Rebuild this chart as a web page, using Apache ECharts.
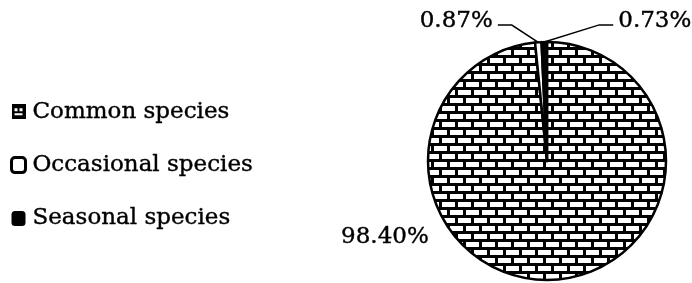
<!DOCTYPE html>
<html>
<head>
<meta charset="utf-8">
<script src="https://cdn.jsdelivr.net/npm/echarts@6/dist/echarts.min.js"></script>
<style>
  html, body { margin: 0; padding: 0; background: #fff; }
  #chart { width: 692px; height: 283px; }
</style>
</head>
<body>
<div id="chart"></div>
<script>
  // 数据
  var categories = ['Common species', 'Occasional species', 'Seasonal species']
  var shares = [98.40, 0.87, 0.73]

  // 砖块填充
  function brickPattern () {
    var c = document.createElement('canvas')
    c.width = 16
    c.height = 16
    var g = c.getContext('2d')
    g.fillStyle = '#000'
    g.fillRect(0, 0, 16, 16)
    g.fillStyle = '#fff'
    g.fillRect(2, 2, 13, 5)
    g.fillRect(0, 10, 7, 5)
    g.fillRect(10, 10, 6, 5)
    return c
  }

  // 图例里的小砖块图标
  function brickIcon () {
    var c = document.createElement('canvas')
    c.width = 14
    c.height = 15
    var g = c.getContext('2d')
    g.fillStyle = '#000'
    g.fillRect(0, 0, 14, 15)
    g.fillStyle = '#fff'
    g.fillRect(3, 4, 3, 3)
    g.fillRect(8, 4, 3, 3)
    g.fillRect(3, 9, 8, 2)
    return c.toDataURL()
  }

  var fills = [{ image: brickPattern(), repeat: 'repeat' }, '#fff', '#000']
  var font = 'DejaVu Serif'

  var pieData = categories.map(function (name, i) {
    var item = { name: name, value: shares[i], itemStyle: { color: fills[i] } }
    if (i === 0) item.labelLine = { show: false }
    return item
  })

  var chart = echarts.init(document.getElementById('chart'))
  chart.setOption({
    animation: false,
    legend: {
      orient: 'vertical',
      left: 10,
      top: 100,
      padding: 0,
      itemWidth: 14,
      itemHeight: 15,
      itemGap: 30,
      selectedMode: false,
      textStyle: {
        fontFamily: font, fontSize: 23, lineHeight: 23, color: '#000',
        textBorderColor: '#000', textBorderWidth: 0.4, padding: [0, 0, 0, 2]
      },
      data: [
        { name: categories[0], icon: 'image://' + brickIcon() },
        { name: categories[1], icon: 'roundRect', itemStyle: { color: '#fff', borderColor: '#000', borderWidth: 3 } },
        { name: categories[2], icon: 'roundRect', itemStyle: { color: '#000', borderWidth: 0 } }
      ]
    },
    series: [{
      type: 'pie',
      center: [547, 161],
      radius: 119,
      startAngle: 90,
      clockwise: true,
      avoidLabelOverlap: false,
      emphasis: { disabled: true },
      itemStyle: { borderColor: '#000', borderWidth: 2.5 },
      label: {
        show: true,
        position: 'outside',
        formatter: function (p) { return '{v|' + p.value.toFixed(2) + '%}\n{s| }' },
        rich: {
          v: {
            color: '#000', fontFamily: font, fontSize: 23, lineHeight: 23,
            textBorderColor: '#000', textBorderWidth: 0.4, padding: [0, 5, 0, 5]
          },
          s: { fontSize: 1, lineHeight: 16 }
        }
      },
      labelLine: {
        show: true,
        length: 14,
        length2: 14,
        lineStyle: { color: '#000', width: 1.5 }
      },
      labelLayout: function (p) {
        var r = p.rect
        if (p.dataIndex === 0) return { x: r.x + 7, y: r.y + r.height * 0.851, align: 'right' }
        if (p.dataIndex === 1) return { x: r.x - 36, y: r.y - 12, align: 'right' }
        return { x: r.x + r.width + 65, y: r.y - 12, align: 'left' }
      },
      data: pieData
    }]
  })
</script>
</body>
</html>
